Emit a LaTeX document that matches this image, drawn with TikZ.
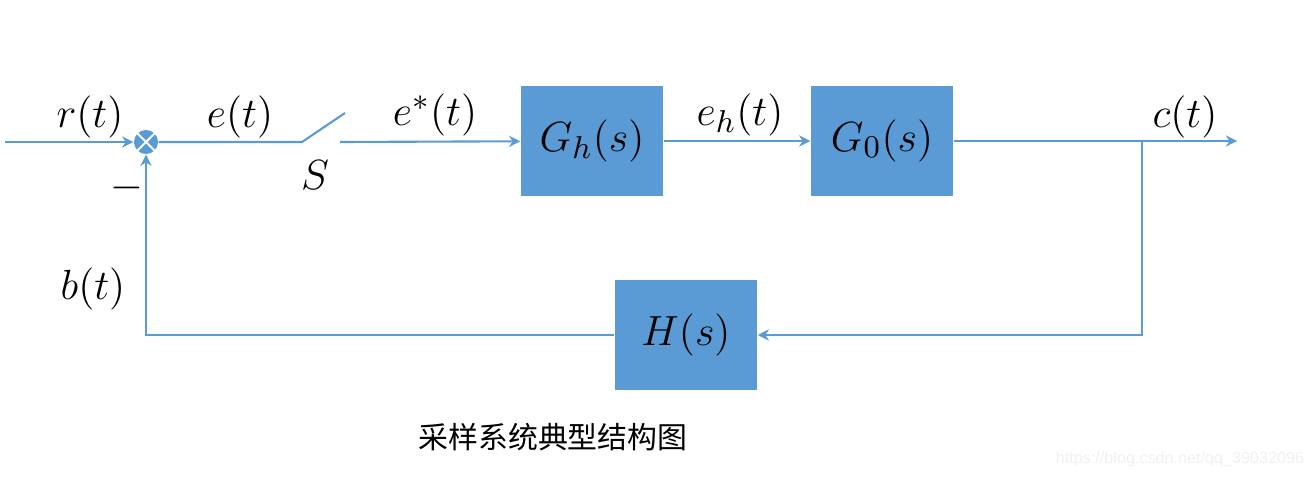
\documentclass[tikz,border=0pt]{standalone}
\usepackage{fontspec}
\newfontfamily\cjk{Noto Sans CJK SC}
\newfontfamily\wmfont{Liberation Sans}
\usetikzlibrary{arrows.meta}
\definecolor{blk}{HTML}{5B9BD5}
\definecolor{ln}{HTML}{5B9BD5}
\begin{document}
\begin{tikzpicture}[x=0.01cm,y=-0.01cm,
  blockbox/.style={fill=blk, minimum width=1.42cm, minimum height=1.10cm, inner sep=0pt, font=\fontsize{12.5}{14}\selectfont},
  sumnode/.style={circle, fill=blk, minimum size=0.24cm, inner sep=0pt},
  wire/.style={draw=ln, line width=0.6pt},
  arr/.style={wire, -{Stealth[length=3.2pt,width=3.2pt]}},
  lab/.style={font=\fontsize{12.5}{14}\selectfont, inner sep=0pt}]
\useasboundingbox (0,0) rectangle (1313,479);
% blocks
\node[blockbox] (gh) at (592,141) {$G_h(s)$};
\node[blockbox] (g0) at (882,141) {$G_0(s)$};
\node[blockbox] (h) at (686,335) {$H(s)$};
\node[sumnode] (sum) at (146,142) {};
\draw[white, line width=0.6pt] (sum.45) -- (sum.225) (sum.135) -- (sum.315);
% coordinates
\coordinate (in) at (5,142);
\coordinate (sw1) at (302,142);
\coordinate (sw2) at (345,113);
\coordinate (sw3) at (340,142);
\coordinate (out) at (1237,141);
\coordinate (br) at (1142,141);
% connectors
\draw[arr] (in) -- (sum);
\draw[wire] (sum) -- (sw1) -- (sw2);
\draw[arr] (sw3) -- (gh);
\draw[arr] (gh) -- (g0);
\draw[arr] (g0) -- (out);
\draw[arr] (br) |- (h);
\draw[arr] (h) -| (sum);
% labels
\node[lab] (lr) at (90,117) {$r(t)$};
\node[lab] (le) at (240,117) {$e(t)$};
\node[lab] (les) at (435,115) {$e^{*}(t)$};
\node[lab] (leh) at (740,115) {$e_h(t)$};
\node[lab] (lc) at (1185,117) {$c(t)$};
\node[lab] (ls) at (315,175) {$S$};
\node[lab, font=\fontsize{13}{15}\selectfont] (lm) at (127,188) {$-$};
\node[lab] (lb) at (93,289) {$b(t)$};
\node[font=\cjk\fontsize{8.5}{10}\selectfont, inner sep=0pt] (cap) at (553,437) {采样系统典型结构图};
\node[font=\wmfont\fontsize{4.6}{6}\selectfont, text=black!6, inner sep=0pt] (wm) at (1180,459) {https://blog.csdn.net/qq\_39032096};
\end{tikzpicture}
\end{document}
